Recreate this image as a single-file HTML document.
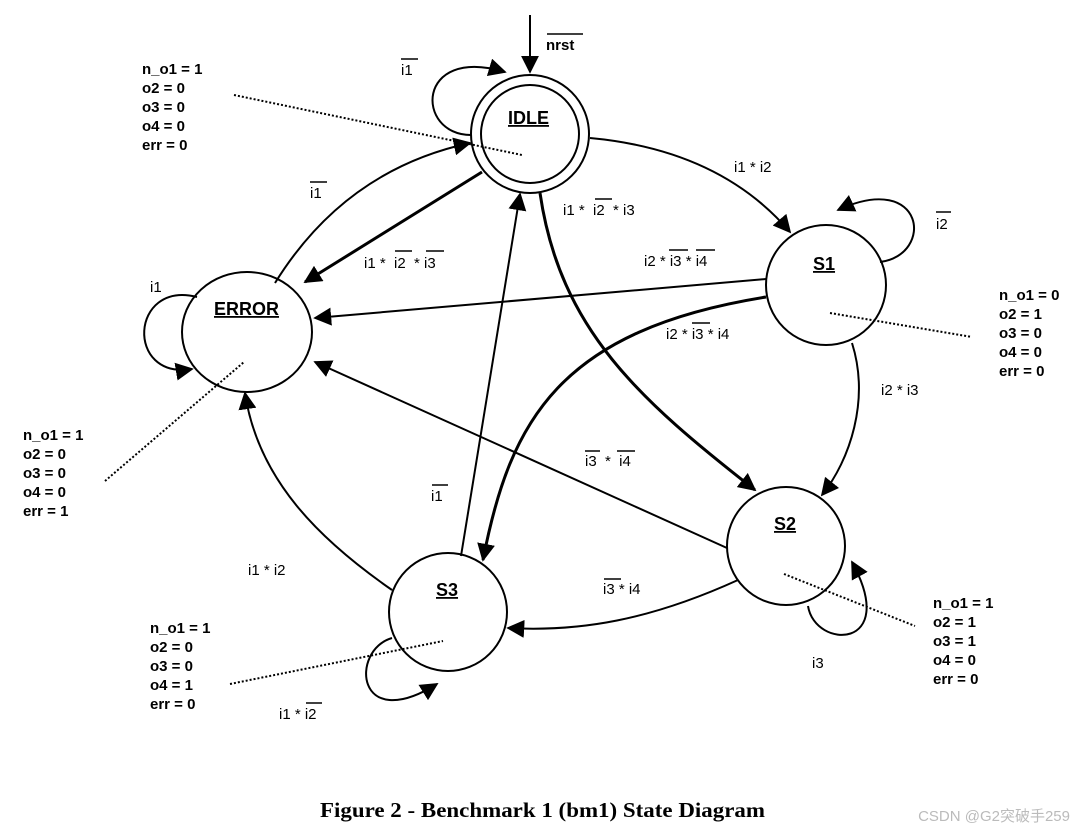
<!DOCTYPE html>
<html><head><meta charset="utf-8"><style>
html,body{margin:0;padding:0;background:#fff;}
svg{display:block;}
text{font-family:"Liberation Sans",Arial,sans-serif;font-size:15px;fill:#000;white-space:pre;}
.b{font-weight:bold;}
.st{font-weight:bold;font-size:18px;text-decoration:underline;}
</style></head><body>
<svg width="1077" height="831" viewBox="0 0 1077 831" xmlns="http://www.w3.org/2000/svg" xml:space="preserve">
<defs>
<marker id="a" viewBox="0 0 10 10" refX="9" refY="5" markerWidth="18" markerHeight="18" markerUnits="userSpaceOnUse" orient="auto">
<path d="M0,0 L10,5 L0,10 z" fill="#000"/></marker>
</defs>
<g fill="none" stroke="#000" stroke-width="2">
<circle cx="530" cy="134" r="59"/>
<circle cx="530" cy="134" r="49"/>
<circle cx="826" cy="285" r="60"/>
<ellipse cx="247" cy="332" rx="65" ry="60"/>
<circle cx="786" cy="546" r="59"/>
<circle cx="448" cy="612" r="59"/>

<path d="M530,15 L530,72" marker-end="url(#a)"/>
<path d="M471,135 C415,135 415,45 505,72" marker-end="url(#a)"/>
<path d="M275,283 Q345,170 470,143" marker-end="url(#a)"/>
<path d="M482,172 L305,282" stroke-width="3" marker-end="url(#a)"/>
<path d="M590,138 Q720,150 790,232" marker-end="url(#a)"/>
<path d="M880,262 C935,255 925,170 838,210" marker-end="url(#a)"/>
<path d="M540,193 C560,330 640,400 755,490" stroke-width="3" marker-end="url(#a)"/>
<path d="M766,279 L315,318" marker-end="url(#a)"/>
<path d="M766,297 C560,330 510,420 483,560" stroke-width="3" marker-end="url(#a)"/>
<path d="M852,343 C870,400 850,460 822,495" marker-end="url(#a)"/>
<path d="M727,548 L315,362" marker-end="url(#a)"/>
<path d="M461,556 L520,194" marker-end="url(#a)"/>
<path d="M392,590 C320,540 258,480 245,393" marker-end="url(#a)"/>
<path d="M738,580 C650,620 580,632 508,628" marker-end="url(#a)"/>
<path d="M808,606 C815,650 900,650 852,562" marker-end="url(#a)"/>
<path d="M392,638 C350,650 355,735 437,684" marker-end="url(#a)"/>
<path d="M197,297 C130,280 125,380 192,369" marker-end="url(#a)"/>
</g>
<g stroke="#000" stroke-width="2" stroke-dasharray="2,2">
<line x1="234" y1="95" x2="522" y2="155"/>
<line x1="830" y1="313" x2="972" y2="337"/>
<line x1="105" y1="481" x2="244" y2="362"/>
<line x1="784" y1="574" x2="915" y2="626"/>
<line x1="230" y1="684" x2="443" y2="641"/>
</g>
<g stroke="#000" stroke-width="1.5">
<line x1="547" y1="34" x2="583" y2="34"/>
<line x1="401" y1="59" x2="418" y2="59"/>
<line x1="310" y1="182" x2="327" y2="182"/>
<line x1="395" y1="251" x2="412" y2="251"/>
<line x1="426" y1="251" x2="444" y2="251"/>
<line x1="595" y1="199" x2="612" y2="199"/>
<line x1="669" y1="250" x2="688" y2="250"/>
<line x1="696" y1="250" x2="715" y2="250"/>
<line x1="936" y1="212" x2="951" y2="212"/>
<line x1="692" y1="323" x2="710" y2="323"/>
<line x1="585" y1="451" x2="600" y2="451"/>
<line x1="617" y1="451" x2="635" y2="451"/>
<line x1="432" y1="485" x2="448" y2="485"/>
<line x1="604" y1="579" x2="621" y2="579"/>
<line x1="306" y1="703" x2="322" y2="703"/>
</g>
<text x="546" y="50" class="b">nrst</text>
<text x="401" y="75">i1</text>
<text x="310" y="198">i1</text>
<text x="364" y="268">i1 *  i2  * i3</text>
<text x="563" y="215">i1 *  i2  * i3</text>
<text x="734" y="172">i1 * i2</text>
<text x="936" y="229">i2</text>
<text x="644" y="266">i2 * i3 * i4</text>
<text x="666" y="339">i2 * i3 * i4</text>
<text x="881" y="395">i2 * i3</text>
<text x="585" y="466">i3  *  i4</text>
<text x="431" y="501">i1</text>
<text x="248" y="575">i1 * i2</text>
<text x="603" y="594">i3 * i4</text>
<text x="812" y="668">i3</text>
<text x="279" y="719">i1 * i2</text>
<text x="150" y="292">i1</text>
<text x="508" y="124" class="st">IDLE</text>
<text x="813" y="270" class="st">S1</text>
<text x="214" y="315" class="st">ERROR</text>
<text x="774" y="530" class="st">S2</text>
<text x="436" y="596" class="st">S3</text>
<g>
<text x="142" y="74" class="b">n_o1 = 1</text><text x="142" y="93" class="b">o2 = 0</text><text x="142" y="112" class="b">o3 = 0</text><text x="142" y="131" class="b">o4 = 0</text><text x="142" y="150" class="b">err = 0</text>
<text x="999" y="300" class="b">n_o1 = 0</text><text x="999" y="319" class="b">o2 = 1</text><text x="999" y="338" class="b">o3 = 0</text><text x="999" y="357" class="b">o4 = 0</text><text x="999" y="376" class="b">err = 0</text>
<text x="23" y="440" class="b">n_o1 = 1</text><text x="23" y="459" class="b">o2 = 0</text><text x="23" y="478" class="b">o3 = 0</text><text x="23" y="497" class="b">o4 = 0</text><text x="23" y="516" class="b">err = 1</text>
<text x="933" y="608" class="b">n_o1 = 1</text><text x="933" y="627" class="b">o2 = 1</text><text x="933" y="646" class="b">o3 = 1</text><text x="933" y="665" class="b">o4 = 0</text><text x="933" y="684" class="b">err = 0</text>
<text x="150" y="633" class="b">n_o1 = 1</text><text x="150" y="652" class="b">o2 = 0</text><text x="150" y="671" class="b">o3 = 0</text><text x="150" y="690" class="b">o4 = 1</text><text x="150" y="709" class="b">err = 0</text>
</g>
<text x="320" y="817" textLength="445" lengthAdjust="spacingAndGlyphs" style="font-family:'Liberation Serif',serif;font-weight:bold;font-size:21px;">Figure 2 - Benchmark 1 (bm1) State Diagram</text>
<text x="1070" y="821" text-anchor="end" style="font-family:'Liberation Sans','Noto Sans CJK SC',sans-serif;font-size:15px;fill:#bbb;">CSDN @G2突破手259</text>
</svg>
</body></html>
